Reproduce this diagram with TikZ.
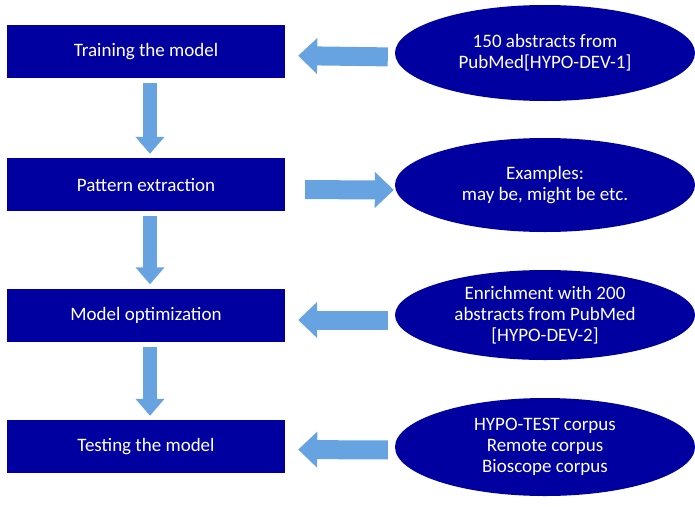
\documentclass[tikz,border=0pt]{standalone}
\usepackage{fontspec}
\setmainfont{Carlito}
\usetikzlibrary{shapes.geometric,arrows.meta}
\definecolor{boxblue}{RGB}{0,0,160}
\definecolor{arrowblue}{RGB}{102,163,224}
\tikzset{
  stagebox/.style={fill=boxblue,text=white,minimum width=278pt,minimum height=53pt,inner sep=0pt,font=\fontsize{19}{21}\selectfont},
  sourceoval/.style={ellipse,fill=boxblue,text=white,minimum width=300pt,inner sep=0pt,align=center,font=\fontsize{19}{21}\selectfont},
  downarrow/.style={arrowblue,line width=14pt,-{Triangle[width=28pt,length=17pt]},shorten <=5pt,shorten >=4pt},
  sidearrow/.style={arrowblue,line width=19pt,-{Triangle[width=35pt,length=19pt]}},
}

\begin{document}
\begin{tikzpicture}[x=1pt,y=-1pt]
            \useasboundingbox (0,0) rectangle (695,506);
            % steps on the left
            \node[stagebox] (train) at (146,51.5) {Training the model};
            \node[stagebox] (pattern) at (146,184.5) {Pattern extraction};
            \node[stagebox] (optim) at (146,315) {Model optimization};
            \node[stagebox] (test) at (146,446.5) {Testing the model};

            % data on the right
            \node[sourceoval,minimum height=96pt] (dev1) at (545,53) {150 abstracts from\\PubMed[HYPO-DEV-1]};
            \node[sourceoval,minimum height=94pt] (examples) at (545,185) {Examples:\\may be, might be etc.};
            \node[sourceoval,minimum height=90pt] (dev2) at (545,315) {Enrichment with 200\\abstracts from PubMed\\{}[HYPO-DEV-2]};
            \node[sourceoval,minimum height=98pt] (corpora) at (545,447) {HYPO-TEST corpus\\Remote corpus\\Bioscope corpus};

            \draw[downarrow] ([xshift=4pt]train.south) -- ([xshift=4pt]pattern.north);
            \draw[downarrow] ([xshift=4pt]pattern.south) -- ([xshift=4pt]optim.north);
            \draw[downarrow] ([xshift=4pt]optim.south) -- ([xshift=4pt]test.north);

            \draw[sidearrow,shorten <=7pt,shorten >=13pt] ([yshift=-4pt]dev1.west) -- ([yshift=-4pt]train.east);
            \draw[sidearrow,shorten <=20pt,shorten >=1pt] ([yshift=-5pt]pattern.east) -- ([yshift=-5pt]examples.west);
            \draw[sidearrow,shorten <=7pt,shorten >=13pt] ([yshift=-5pt]dev2.west) -- ([yshift=-5pt]optim.east);
            \draw[sidearrow,shorten <=7pt,shorten >=13pt] ([yshift=-3pt]corpora.west) -- ([yshift=-3pt]test.east);
        \end{tikzpicture}
\end{document}
